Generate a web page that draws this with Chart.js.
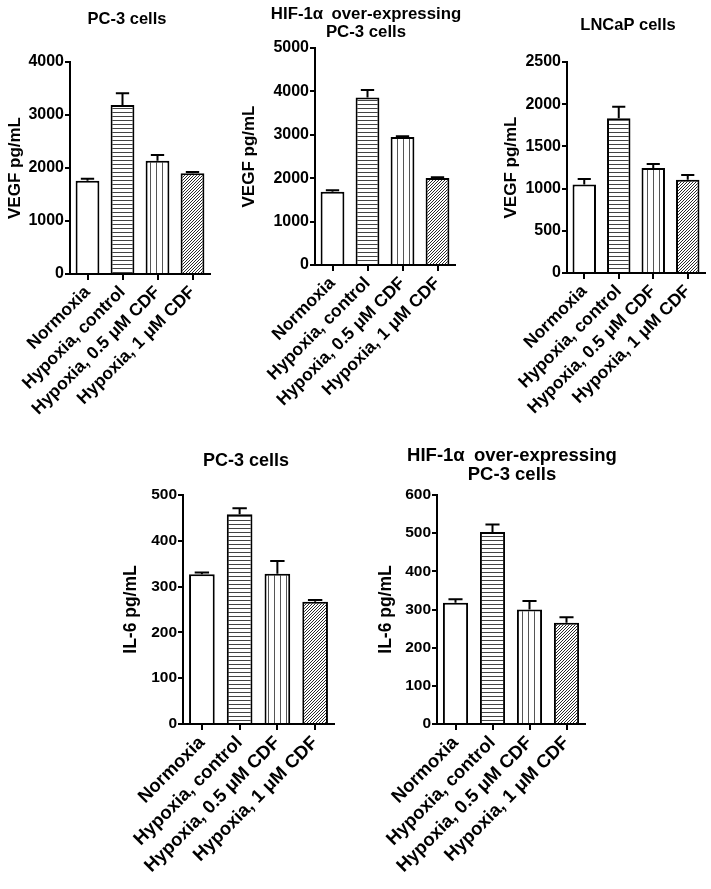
<!DOCTYPE html>
<html>
<head>
<meta charset="utf-8">
<script src="https://cdn.jsdelivr.net/npm/chart.js@4.4.1/dist/chart.umd.min.js"></script>
<style>
html, body { margin: 0; padding: 0; background: #fff; overflow: hidden; }
#fig { position: relative; width: 711px; height: 889px; overflow: hidden; }
#fig canvas { position: absolute; }
</style>
</head>
<body>
<div id="fig"></div>
<script>
// Data
const categories = ['Normoxia', 'Hypoxia, control', 'Hypoxia, 0.5 \u03BCM CDF', 'Hypoxia, 1 \u03BCM CDF'];

const vegfPc3 = [1760, 3190, 2135, 1900];
const vegfPc3Err = [35, 220, 110, 25];

const vegfHif = [1690, 3860, 2950, 2005];
const vegfHifErr = [35, 170, 15, 15];

const vegfLncap = [1050, 1835, 1245, 1105];
const vegfLncapErr = [65, 135, 45, 55];

const il6Pc3 = [327, 458, 328, 267];
const il6Pc3Err = [4, 13, 28, 4];

const il6Hif = [318, 503, 300, 265];
const il6HifErr = [9, 20, 22, 15];

const yMaxes = [4000, 5000, 2500, 500, 600];
const ySteps = [1000, 1000, 500, 100, 100];

Chart.defaults.font.family = '"Liberation Sans", Arial, Helvetica, sans-serif';
Chart.defaults.font.weight = 'bold';
Chart.defaults.color = '#000';

// Fill patterns for the bars
function makePattern(kind) {
    const c = document.createElement('canvas');
    const ctx = c.getContext('2d');
    if (kind === 'h') {
        c.width = 4; c.height = 4;
        ctx.fillStyle = '#fff'; ctx.fillRect(0, 0, 4, 4);
        ctx.fillStyle = '#444'; ctx.fillRect(0, 0, 4, 1);
    } else if (kind === 'v') {
        c.width = 6; c.height = 4;
        ctx.fillStyle = '#fff'; ctx.fillRect(0, 0, 6, 4);
        ctx.fillStyle = '#555'; ctx.fillRect(0, 0, 1, 4);
    } else {
        c.width = 3; c.height = 3;
        ctx.fillStyle = '#fff'; ctx.fillRect(0, 0, 3, 3);
        ctx.fillStyle = '#2a2a2a';
        ctx.fillRect(0, 2, 1, 1); ctx.fillRect(1, 1, 1, 1); ctx.fillRect(2, 0, 1, 1);
    }
    return document.createElement('canvas').getContext('2d').createPattern(c, 'repeat');
}
const fills = ['#fff', makePattern('h'), makePattern('v'), makePattern('d')];

// Upper error bars with a cap
const errorBars = {
    id: 'errorBars',
    afterDatasetsDraw(chart, args, opts) {
        const ctx = chart.ctx;
        const y = chart.scales.y;
        const ds = chart.data.datasets[0];
        const meta = chart.getDatasetMeta(0);
        ctx.save();
        ctx.strokeStyle = '#000';
        ctx.lineWidth = 2;
        meta.data.forEach((bar, i) => {
            const top = y.getPixelForValue(ds.data[i] + opts.errors[i]);
            const half = bar.width * 0.28;
            ctx.beginPath();
            ctx.moveTo(bar.x, bar.y);
            ctx.lineTo(bar.x, top);
            ctx.moveTo(bar.x - half, top);
            ctx.lineTo(bar.x + half, top);
            ctx.stroke();
        });
        ctx.restore();
    }
};

// Panel heading, centred where the figure has it (not on the canvas middle)
const panelTitle = {
    id: 'panelTitle',
    afterDraw(chart, args, opts) {
        const ctx = chart.ctx;
        ctx.save();
        ctx.fillStyle = '#000';
        ctx.font = 'bold ' + opts.size + 'px "Liberation Sans", Arial, sans-serif';
        ctx.textAlign = 'center';
        ctx.textBaseline = 'middle';
        opts.lines.forEach((t, i) => ctx.fillText(t, opts.x, opts.y + i * opts.lh));
        ctx.restore();
    }
};

// Panel placement on the page
const panels = [
    { title: ['PC-3 cells'], yTitle: 'VEGF pg/mL', values: vegfPc3, errors: vegfPc3Err, k: 0,
      area: { l: 70, r: 210, t: 62, b: 274 }, canvasTop: 0, canvasLeft: 0, canvasRight: 230, titleCx: 127, titleY: 19,
      yTitleCx: 15, xH: 170, titleSize: 16.5, titleLH: 18, tickSize: 16, xSize: 17.5, yTitleSize: 17 },
    { title: ['HIF-1\u03B1\u2002over-expressing', 'PC-3 cells'], yTitle: 'VEGF pg/mL', values: vegfHif, errors: vegfHifErr, k: 1,
      area: { l: 315, r: 455, t: 48, b: 265 }, canvasTop: 0, canvasLeft: 235, canvasRight: 475, titleCx: 366, titleY: 14,
      yTitleCx: 249, xH: 170, titleSize: 16.8, titleLH: 18, tickSize: 16, xSize: 17.5, yTitleSize: 17 },
    { title: ['LNCaP cells'], yTitle: 'VEGF pg/mL', values: vegfLncap, errors: vegfLncapErr, k: 2,
      area: { l: 567, r: 705, t: 62, b: 273 }, canvasTop: 0, canvasLeft: 497, canvasRight: 711, titleCx: 628, titleY: 25,
      yTitleCx: 511, xH: 170, titleSize: 16.5, titleLH: 18, tickSize: 16, xSize: 17.5, yTitleSize: 17 },
    { title: ['PC-3 cells'], yTitle: 'IL-6 pg/mL', values: il6Pc3, errors: il6Pc3Err, k: 3,
      area: { l: 183, r: 334, t: 495, b: 724 }, canvasTop: 420, canvasLeft: 118, canvasRight: 360, titleCx: 246, titleY: 461,
      yTitleCx: 131, xH: 165, titleSize: 18, titleLH: 19.6, tickSize: 15.5, xSize: 18.5, yTitleSize: 17.5 },
    { title: ['HIF-1\u03B1\u2002over-expressing', 'PC-3 cells'], yTitle: 'IL-6 pg/mL', values: il6Hif, errors: il6HifErr, k: 4,
      area: { l: 437, r: 585, t: 495, b: 724 }, canvasTop: 420, canvasLeft: 372, canvasRight: 660, titleCx: 512, titleY: 456,
      yTitleCx: 386, xH: 165, titleSize: 18.5, titleLH: 19, tickSize: 15.5, xSize: 18.5, yTitleSize: 17.5 }
];

const fig = document.getElementById('fig');

function buildPanel(p) {
    const w = p.canvasRight - p.canvasLeft;
    const h = p.area.b + p.xH - p.canvasTop;
    const cv = document.createElement('canvas');
    cv.width = w; cv.height = h;
    cv.style.left = p.canvasLeft + 'px';
    cv.style.top = p.canvasTop + 'px';
    cv.style.width = w + 'px';
    cv.style.height = h + 'px';
    fig.appendChild(cv);

    const yW = p.area.l - p.canvasLeft;
    const yTitlePad = p.yTitleCx - p.canvasLeft - p.yTitleSize * 1.2 / 2;

    new Chart(cv, {
        type: 'bar',
        data: {
            labels: categories,
            datasets: [{
                data: p.values,
                backgroundColor: fills,
                borderColor: '#000',
                borderWidth: 2,
                barPercentage: 0.68,
                categoryPercentage: 1
            }]
        },
        options: {
            responsive: false,
            animation: false,
            devicePixelRatio: 1,
            layout: { padding: { left: 0, top: p.area.t - p.canvasTop, bottom: 0, right: p.canvasRight - p.area.r } },
            plugins: {
                legend: { display: false },
                tooltip: { enabled: false },
                title: { display: false },
                errorBars: { errors: p.errors },
                panelTitle: {
                    lines: p.title,
                    x: p.titleCx - p.canvasLeft,
                    y: p.titleY - p.canvasTop,
                    lh: p.titleLH,
                    size: p.titleSize
                }
            },
            scales: {
                x: {
                    offset: true,
                    grid: { display: true, drawOnChartArea: false, drawTicks: true, tickLength: 6, offset: false, color: '#000', lineWidth: 2 },
                    border: { display: true, color: '#000', width: 2 },
                    ticks: { color: '#000', font: { size: p.xSize, weight: 'bold' }, minRotation: 45, maxRotation: 45, padding: 2, autoSkip: false },
                    afterFit: s => { s.height = p.xH; }
                },
                y: {
                    min: 0,
                    max: yMaxes[p.k],
                    ticks: { stepSize: ySteps[p.k], color: '#000', font: { size: p.tickSize, weight: 'bold' }, padding: 1, callback: v => String(v) },
                    grid: { display: true, drawOnChartArea: false, drawTicks: true, tickLength: 5, color: '#000', lineWidth: 2 },
                    border: { display: true, color: '#000', width: 2 },
                    title: {
                        display: true,
                        text: p.yTitle,
                        color: '#000',
                        font: { size: p.yTitleSize, weight: 'bold', lineHeight: 1.2 },
                        padding: { top: yTitlePad, bottom: 0 }
                    },
                    afterFit: s => { s.width = yW; }
                }
            }
        },
        plugins: [errorBars, panelTitle]
    });
}

panels.forEach(buildPanel);
</script>
</body>
</html>
